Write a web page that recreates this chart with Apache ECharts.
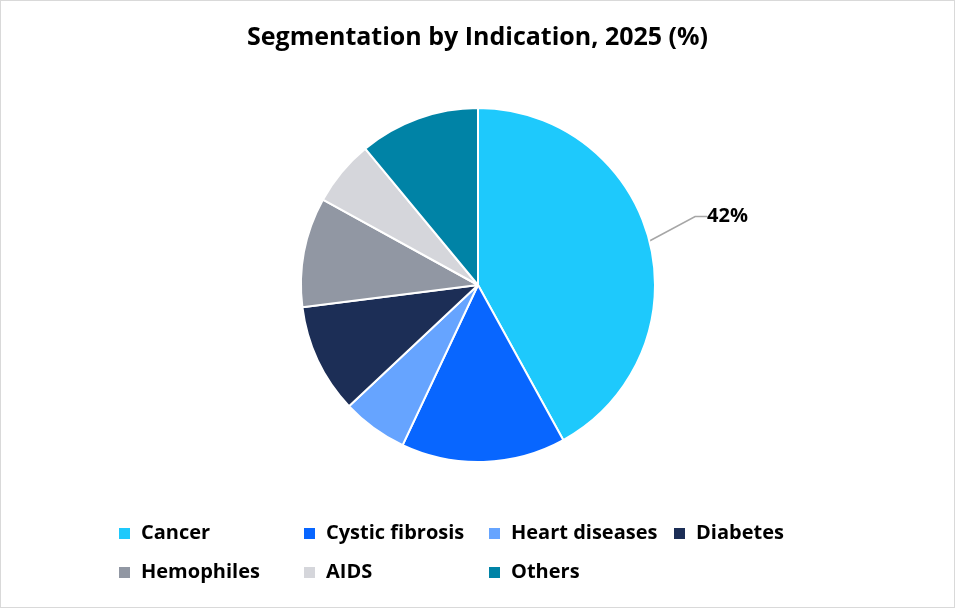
<!DOCTYPE html>
<html>
<head>
<meta charset="utf-8">
<script src="https://cdn.jsdelivr.net/npm/echarts@6/dist/echarts.min.js"></script>
<style>
    html, body { margin: 0; padding: 0; background: #fff; }
    #main { width: 953px; height: 606px; border: 1px solid #d9d9d9; }
</style>
</head>
<body>
<div id="main"></div>
<script>
var categories = ['Cancer', 'Cystic fibrosis', 'Heart diseases', 'Diabetes', 'Hemophiles', 'AIDS', 'Others'];
var shares = [42, 15, 6, 10, 10, 6, 11];
var colors = ['#1ec9fc', '#0866ff', '#66a4ff', '#1c2e56', '#9197a3', '#d5d6db', '#0083a6'];
var labelled = ['Cancer'];

var pieData = [];
for (var i = 0; i < categories.length; i++) {
    var item = { name: categories[i], value: shares[i] };
    if (labelled.indexOf(categories[i]) < 0) {
        item.label = { show: false };
        item.labelLine = { show: false };
    }
    pieData.push(item);
}

var myChart = echarts.init(document.getElementById('main'));

var option = {
    color: colors,
    title: {
        text: 'Segmentation by Indication, 2025 (%)',
        left: 'center',
        top: 19,
        textStyle: { fontFamily: 'Open Sans', fontSize: 25, fontWeight: 'bold', color: '#000' }
    },
    legend: {
        left: 116,
        top: 519,
        width: 740,
        padding: 0,
        itemWidth: 13,
        itemHeight: 13,
        itemGap: 12,
        icon: 'rect',
        data: categories,
        textStyle: {
            fontFamily: 'Open Sans',
            fontSize: 20,
            fontWeight: 'bold',
            color: '#000',
            width: 149,
            lineHeight: 27,
            padding: [0, 0, 0, 5]
        }
    },
    series: [{
        type: 'pie',
        center: [477, 284],
        radius: 177,
        startAngle: 90,
        clockwise: true,
        avoidLabelOverlap: false,
        itemStyle: { borderColor: '#fff', borderWidth: 2 },
        label: {
            show: true,
            formatter: '{c}%',
            fontFamily: 'Open Sans',
            fontSize: 20,
            fontWeight: 'bold',
            color: '#000'
        },
        labelLine: {
            show: true,
            length: 42,
            length2: 12,
            smooth: false,
            lineStyle: { color: '#a6a6a6', width: 1.5 }
        },
        // lift the label a little; the guide line is redrawn to follow it
        labelLayout: function(params) {
            var r = params.labelRect;
            return {
                x: r.x,
                y: r.y + r.height / 2 - 14,
                align: 'left',
                verticalAlign: 'middle'
            };
        },
        emphasis: { disabled: true },
        data: pieData
    }]
};

myChart.setOption(option);
</script>
</body>
</html>
